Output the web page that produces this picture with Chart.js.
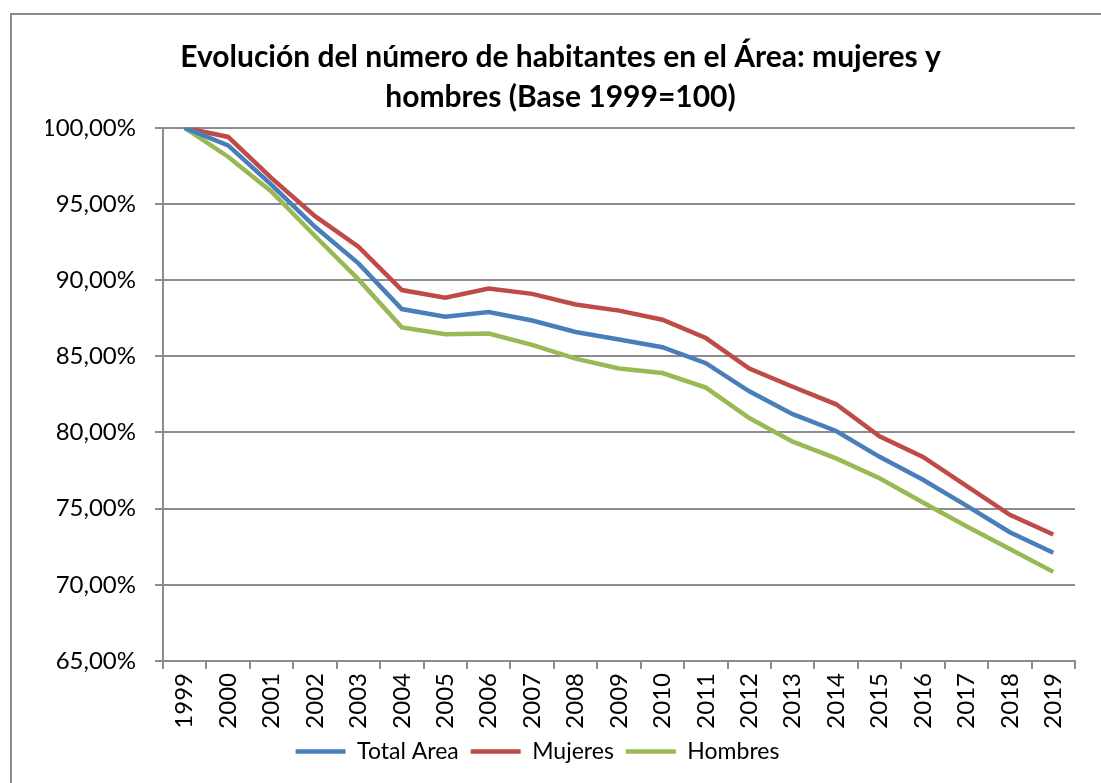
<!DOCTYPE html>
<html>
<head>
<meta charset="utf-8">
<script src="https://cdn.jsdelivr.net/npm/chart.js@4.4.1/dist/chart.umd.min.js"></script>
<style>
  html, body { margin: 0; padding: 0; background: #fff; }
  #frame { position: absolute; left: 10px; top: 13px; width: 1100px; height: 780px; border: 2px solid #8c8c8c; }
  #wrap { position: absolute; left: 0; top: 0; width: 1101px; height: 783px; }
</style>
</head>
<body>
<div id="frame"></div>
<div id="wrap"><canvas id="chart"></canvas></div>
<script>
// datos (base 1999 = 100)
var years = ['1999','2000','2001','2002','2003','2004','2005','2006','2007','2008','2009','2010',
             '2011','2012','2013','2014','2015','2016','2017','2018','2019'];
var totalArea = [100, 98.85, 96.25, 93.5, 91.1, 88.1, 87.6, 87.9, 87.35, 86.6, 86.1, 85.6,
                 84.55, 82.7, 81.2, 80.1, 78.4, 76.9, 75.2, 73.45, 72.1];
var mujeres = [100, 99.4, 96.7, 94.2, 92.2, 89.35, 88.85, 89.45, 89.1, 88.4, 88.0, 87.4,
               86.2, 84.2, 83.0, 81.85, 79.75, 78.4, 76.5, 74.6, 73.3];
var hombres = [100, 98.1, 95.8, 92.9, 90.05, 86.9, 86.45, 86.5, 85.75, 84.85, 84.2, 83.9,
               82.95, 80.95, 79.4, 78.3, 77.0, 75.4, 73.85, 72.35, 70.85];
var yTicks = [65, 70, 75, 80, 85, 90, 95, 100];

var FONT = 'Lato';
var gridGray = '#8c8c8c';

function serie(label, values, color) {
    return {
        label: label,
        data: values,
        borderColor: color,
        backgroundColor: color,
        borderWidth: 4.5,
        pointRadius: 0,
        pointStyle: 'line',
        tension: 0
    };
}

// the legend sits centred on the whole canvas, not on the padded area
const legendShift = {
    id: 'legendShift',
    afterLayout: function (chart) {
        chart.legend.left -= 23;
        chart.legend.right -= 23;
    }
};

const config = {
    type: 'line',
    data: {
        labels: years,
        datasets: [
            serie('Total Area', totalArea, '#4a7ebb'),
            serie('Mujeres', mujeres, '#be4b48'),
            serie('Hombres', hombres, '#98b954')
        ]
    },
    plugins: [legendShift],
    options: {
        responsive: true,
        maintainAspectRatio: false,
        animation: false,
        layout: { padding: { left: 46, right: 26, top: 0, bottom: 10 } },
        plugins: {
            tooltip: { enabled: false },
            title: {
                display: true,
                text: ['Evolución del número de habitantes en el Área: mujeres y', 'hombres (Base 1999=100)'],
                color: '#000',
                font: { family: FONT, size: 30, weight: 'bold', lineHeight: 1.33 },
                padding: { top: 37, bottom: 11 }
            },
            legend: {
                position: 'bottom',
                labels: {
                    usePointStyle: true,
                    pointStyleWidth: 50,
                    color: '#000',
                    font: { family: FONT, size: 23 },
                    padding: 12
                }
            }
        },
        scales: {
            x: {
                offset: true,
                afterFit: function (s) { s.height = 67; },
                grid: { offset: true, drawOnChartArea: false, drawTicks: true, tickLength: 8, color: gridGray, lineWidth: 2 },
                border: { display: true, color: gridGray, width: 2 },
                ticks: {
                    minRotation: 90, maxRotation: 90, autoSkip: false, padding: 4,
                    color: '#000', font: { family: FONT, size: 24 }
                }
            },
            y: {
                min: 65,
                max: 100,
                afterFit: function (s) { s.width = 117; },
                afterBuildTicks: function (s) { s.ticks = yTicks.map(function (v) { return { value: v }; }); },
                grid: { color: gridGray, lineWidth: 2, tickLength: 8 },
                border: { display: true, color: gridGray, width: 2 },
                ticks: {
                    padding: 19, color: '#000', font: { family: FONT, size: 24 },
                    callback: function (v) { return v.toFixed(2).replace('.', ',') + '%'; }
                }
            }
        }
    }
};

var myChart = new Chart(document.getElementById('chart'), config);
</script>
</body>
</html>
